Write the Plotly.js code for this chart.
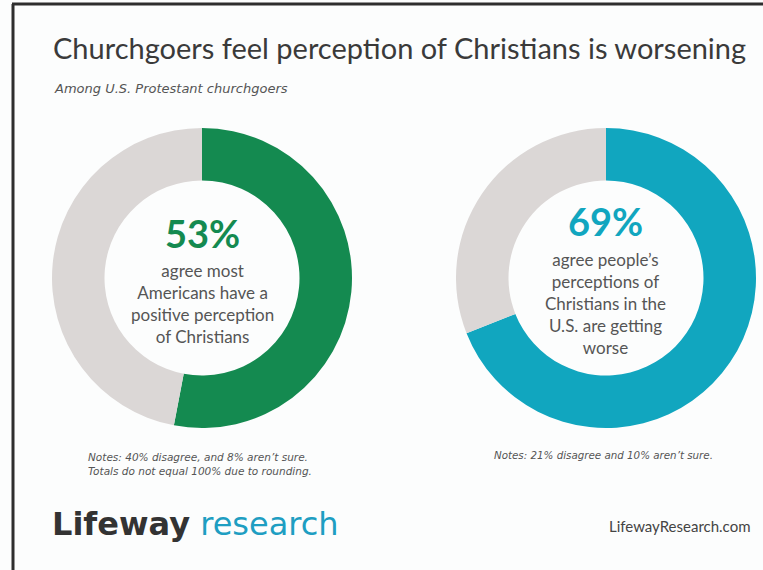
<!DOCTYPE html>
<html>
<head>
<meta charset="utf-8">
<script src="https://cdn.plot.ly/plotly-3.0.1.min.js"></script>
<style>html,body{margin:0;padding:0;background:#fcfdfd;}#chart{width:763px;height:570px;}</style>
</head>
<body>
<div id="chart"></div>
<script>
// Data
const categories = ["Agree", "Other"];
const agreeValues = [53, 69];
const restValues = [47, 31];
const disagreeValues = [40, 21];
const notSureValues = [8, 10];
const bigLabels = ["53%", "69%"];
const statements = [
  "agree most<br>Americans have a<br>positive perception<br>of Christians",
  "agree people’s<br>perceptions of<br>Christians in the<br>U.S. are getting<br>worse"
];
const accentColors = ["#148a50", "#11a6bf"];
const restColor = "#dbd7d6";

const W = 763, H = 570;
const px = x => x / W;
const py = y => 1 - y / H;

const centers = [[202, 278], [606, 278]];
const R = 150;

const traces = centers.map((c, i) => ({
  type: "pie",
  labels: categories,
  values: [agreeValues[i], restValues[i]],
  sort: false,
  direction: "clockwise",
  rotation: 0,
  hole: 0.65,
  textinfo: "none",
  hoverinfo: "label+value",
  showlegend: false,
  marker: { colors: [accentColors[i], restColor], line: { width: 0 } },
  domain: { x: [px(c[0] - R), px(c[0] + R)], y: [py(c[1] + R), py(c[1] - R)] }
}));

const font = "Lato, 'Noto Sans', sans-serif";
const wide = "'DejaVu Sans', sans-serif";
const annotations = [
  { text: "Churchgoers feel perception of Christians is worsening", x: px(51), y: py(47), xanchor: "left", yanchor: "middle",
    font: { family: font, size: 29, color: "#3a3a3a" } },
  { text: "<i>Among U.S. Protestant churchgoers</i>", x: px(52), y: py(88), xanchor: "left", yanchor: "middle",
    font: { family: wide, size: 13, color: "#555" } },
  { text: "<b>" + bigLabels[0] + "</b>", x: px(202), y: py(233), xanchor: "center", yanchor: "middle",
    font: { family: font, size: 38, color: accentColors[0] } },
  { text: statements[0], x: px(202), y: py(303), xanchor: "center", yanchor: "middle", align: "center",
    font: { family: font, size: 17, color: "#555" } },
  { text: "<b>" + bigLabels[1] + "</b>", x: px(605), y: py(221), xanchor: "center", yanchor: "middle",
    font: { family: font, size: 38, color: accentColors[1] } },
  { text: statements[1], x: px(605), y: py(303), xanchor: "center", yanchor: "middle", align: "center",
    font: { family: font, size: 17, color: "#555" } },
  { text: "<i>Notes: " + disagreeValues[0] + "% disagree, and " + notSureValues[0] + "% aren’t sure.<br>Totals do not equal 100% due to rounding.</i>",
    x: px(86), y: py(464), xanchor: "left", yanchor: "middle", align: "left",
    font: { family: wide, size: 10.5, color: "#555" } },
  { text: "<i>Notes: " + disagreeValues[1] + "% disagree and " + notSureValues[1] + "% aren’t sure.</i>",
    x: px(492), y: py(455), xanchor: "left", yanchor: "middle", align: "left",
    font: { family: wide, size: 10.3, color: "#555" } },
  { text: "<b>Lifeway</b> <span style='color:#1e9ec2'>research</span>", x: px(50), y: py(524), xanchor: "left", yanchor: "middle",
    font: { family: wide, size: 32, color: "#333" } },
  { text: "LifewayResearch.com", x: px(753), y: py(526), xanchor: "right", yanchor: "middle",
    font: { family: font, size: 15, color: "#444" } }
].map(a => Object.assign({ xref: "paper", yref: "paper", showarrow: false }, a));

const shapes = [
  { type: "line", xref: "paper", yref: "paper", x0: px(13), x1: px(13), y0: 0, y1: py(4), line: { color: "#2e2e2e", width: 3 } },
  { type: "line", xref: "paper", yref: "paper", x0: px(12), x1: 1, y0: py(4), y1: py(4), line: { color: "#2e2e2e", width: 3 } }
];

const layout = {
  width: W, height: H,
  margin: { l: 0, r: 0, t: 0, b: 0 },
  paper_bgcolor: "#fcfdfd",
  plot_bgcolor: "#fcfdfd",
  annotations: annotations,
  shapes: shapes,
  showlegend: false
};

Plotly.newPlot("chart", traces, layout, { displayModeBar: false, staticPlot: true });
</script>
</body>
</html>
